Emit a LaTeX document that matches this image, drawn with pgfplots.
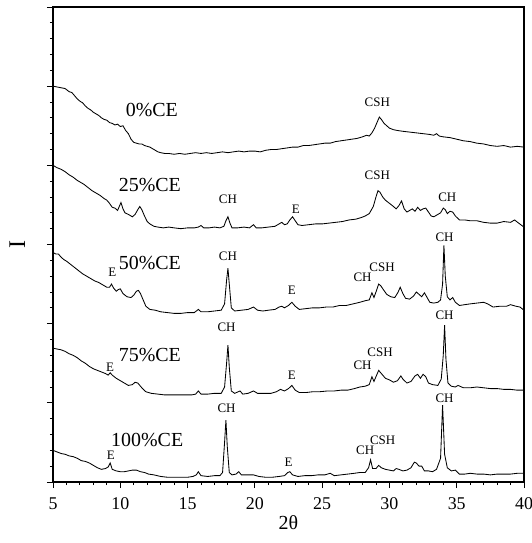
\documentclass[border=0pt]{standalone}
\usepackage{pgfplots}
\pgfplotsset{compat=1.18}
\usepackage{fontspec}
\setmainfont{Liberation Serif}
\begin{document}
\begin{tikzpicture}[lab/.style={font=\fontsize{20}{20}\selectfont}, pk/.style={font=\fontsize{13}{13}\selectfont}, cv/.style={black, line width=0.85pt, mark=none}]
\begin{axis}[
  at={(0,0)}, anchor=south west,
  scale only axis, width=471bp, height=475bp,
  xmin=5, xmax=40, ymin=0, ymax=6,
  xtick={5,10,...,40}, minor x tick num=4,
  ytick={0,1,...,6}, yticklabels={}, minor y tick num=4,
  xtick pos=bottom, ytick pos=left,
  tick align=outside,
  major tick length=6bp, minor tick length=3bp,
  axis line style={line width=1.1pt},
  every tick/.style={black, line width=0.9pt},
  /pgf/number format/assume math mode=true,
  ticklabel style={font=\fontsize{18}{18}\selectfont},
  xticklabel style={yshift=-6bp},
  xlabel={2θ}, xlabel style={font=\fontsize{20}{20}\selectfont, at={(axis description cs:0.5,-0.086)}, anchor=center},
  clip=false,
]
% 0%CE
\addplot[cv] coordinates {
(5.0,5.00)(5.3,4.99)(5.6,4.98)(5.9,4.97)(6.2,4.93)(6.4,4.92)(6.6,4.88)(6.8,4.84)(7.0,4.81)(7.2,4.79)(7.4,4.75)(7.6,4.72)(7.8,4.70)(8.0,4.67)(8.2,4.65)(8.4,4.63)(8.6,4.60)(8.8,4.58)(9.0,4.57)(9.2,4.54)(9.4,4.53)(9.6,4.51)(9.8,4.52)(10.0,4.49)(10.2,4.50)(10.4,4.44)(10.6,4.40)(10.8,4.33)(11.0,4.29)(11.2,4.28)(11.4,4.27)(11.6,4.27)(11.8,4.25)(12.0,4.24)(12.2,4.23)(12.4,4.21)(12.6,4.19)(12.8,4.17)(13.0,4.16)(13.3,4.15)(13.6,4.15)(14.0,4.14)(14.4,4.15)(14.8,4.14)(15.2,4.15)(15.6,4.16)(16.0,4.15)(16.4,4.16)(16.8,4.15)(17.2,4.16)(17.6,4.17)(18.0,4.16)(18.4,4.17)(18.8,4.18)(19.2,4.17)(19.6,4.18)(20.0,4.18)(20.4,4.17)(20.8,4.19)(21.2,4.20)(21.6,4.20)(22.0,4.21)(22.4,4.22)(22.8,4.23)(23.2,4.23)(23.6,4.25)(24.0,4.25)(24.4,4.26)(24.8,4.27)(25.2,4.28)(25.6,4.28)(26.0,4.30)(26.4,4.31)(26.8,4.32)(27.2,4.33)(27.6,4.34)(28.0,4.36)(28.3,4.38)(28.5,4.37)(28.7,4.41)(28.9,4.47)(29.1,4.55)(29.25,4.61)(29.4,4.58)(29.6,4.53)(29.8,4.50)(30.0,4.47)(30.3,4.45)(30.6,4.44)(31.0,4.43)(31.5,4.42)(32.0,4.41)(32.5,4.40)(33.0,4.39)(33.3,4.38)(33.5,4.40)(33.7,4.37)(34.0,4.36)(34.5,4.35)(35.0,4.33)(35.5,4.31)(36.0,4.30)(36.5,4.28)(37.0,4.27)(37.5,4.25)(38.0,4.24)(38.5,4.25)(39.0,4.23)(39.5,4.24)(40.0,4.23)
};
% 25%CE
\addplot[cv] coordinates {
(5.0,4.00)(5.3,3.97)(5.6,3.95)(5.9,3.92)(6.2,3.88)(6.5,3.85)(6.8,3.81)(7.0,3.79)(7.3,3.76)(7.6,3.72)(7.9,3.68)(8.2,3.65)(8.5,3.62)(8.8,3.58)(9.0,3.56)(9.2,3.52)(9.4,3.47)(9.6,3.46)(9.8,3.43)(9.9,3.47)(10.05,3.53)(10.2,3.45)(10.35,3.40)(10.6,3.38)(10.9,3.35)(11.1,3.38)(11.3,3.44)(11.45,3.48)(11.6,3.44)(11.8,3.36)(12.0,3.29)(12.2,3.26)(12.5,3.23)(12.8,3.22)(13.2,3.21)(13.6,3.22)(14.0,3.21)(14.5,3.20)(15.0,3.21)(15.5,3.21)(15.8,3.22)(16.0,3.24)(16.2,3.21)(16.6,3.21)(17.0,3.22)(17.4,3.21)(17.7,3.23)(17.85,3.30)(18.0,3.35)(18.15,3.27)(18.3,3.21)(18.7,3.21)(19.2,3.22)(19.6,3.21)(19.9,3.25)(20.1,3.21)(20.5,3.21)(21.0,3.22)(21.5,3.23)(21.8,3.26)(22.0,3.28)(22.2,3.25)(22.4,3.26)(22.6,3.31)(22.8,3.35)(23.0,3.30)(23.2,3.25)(23.5,3.24)(24.0,3.25)(24.5,3.26)(25.0,3.26)(25.5,3.27)(26.0,3.28)(26.5,3.29)(27.0,3.31)(27.5,3.32)(27.9,3.34)(28.2,3.36)(28.5,3.39)(28.8,3.48)(29.0,3.60)(29.15,3.68)(29.3,3.66)(29.5,3.60)(29.7,3.56)(30.0,3.52)(30.3,3.48)(30.5,3.45)(30.7,3.49)(30.9,3.55)(31.1,3.45)(31.3,3.41)(31.5,3.43)(31.7,3.45)(31.9,3.42)(32.1,3.47)(32.3,3.43)(32.5,3.45)(32.7,3.46)(32.9,3.41)(33.1,3.36)(33.3,3.35)(33.5,3.37)(33.8,3.40)(34.0,3.46)(34.15,3.44)(34.3,3.39)(34.5,3.42)(34.7,3.41)(34.9,3.36)(35.2,3.31)(35.6,3.31)(36.0,3.30)(36.5,3.30)(37.0,3.28)(37.5,3.27)(38.0,3.27)(38.5,3.29)(39.0,3.28)(39.3,3.31)(39.6,3.27)(40.0,3.22)
};
% 50%CE
\addplot[cv] coordinates {
(5.0,2.90)(5.2,2.88)(5.4,2.88)(5.6,2.84)(5.8,2.81)(6.0,2.79)(6.3,2.75)(6.6,2.71)(6.9,2.67)(7.2,2.63)(7.5,2.60)(7.8,2.57)(8.1,2.54)(8.4,2.52)(8.7,2.49)(9.0,2.46)(9.2,2.46)(9.35,2.50)(9.5,2.45)(9.7,2.41)(9.85,2.43)(10.0,2.44)(10.2,2.38)(10.5,2.34)(10.8,2.33)(11.0,2.36)(11.2,2.41)(11.35,2.42)(11.5,2.38)(11.7,2.30)(11.9,2.22)(12.2,2.18)(12.6,2.17)(13.0,2.15)(13.5,2.14)(14.0,2.13)(14.5,2.13)(15.0,2.14)(15.5,2.14)(15.8,2.18)(16.0,2.15)(16.5,2.15)(17.0,2.16)(17.5,2.17)(17.75,2.25)(17.9,2.55)(18.0,2.70)(18.1,2.50)(18.25,2.20)(18.5,2.16)(19.0,2.17)(19.5,2.18)(19.9,2.21)(20.2,2.17)(20.6,2.16)(21.0,2.17)(21.5,2.18)(21.8,2.21)(22.0,2.22)(22.2,2.20)(22.5,2.23)(22.75,2.27)(23.0,2.22)(23.3,2.18)(23.8,2.19)(24.3,2.20)(24.8,2.20)(25.3,2.21)(25.8,2.21)(26.3,2.23)(26.8,2.23)(27.3,2.25)(27.8,2.27)(28.2,2.29)(28.5,2.30)(28.7,2.39)(28.85,2.33)(29.0,2.40)(29.2,2.50)(29.35,2.48)(29.55,2.43)(29.8,2.37)(30.1,2.34)(30.4,2.33)(30.65,2.40)(30.8,2.46)(31.0,2.38)(31.2,2.32)(31.5,2.31)(31.8,2.35)(32.0,2.40)(32.2,2.37)(32.4,2.34)(32.6,2.39)(32.8,2.33)(33.0,2.27)(33.3,2.26)(33.6,2.27)(33.8,2.30)(33.95,2.50)(34.05,2.99)(34.15,2.60)(34.3,2.34)(34.5,2.30)(34.7,2.33)(34.9,2.27)(35.2,2.23)(35.6,2.24)(36.0,2.25)(36.5,2.26)(37.0,2.27)(37.3,2.25)(37.7,2.21)(38.2,2.22)(38.7,2.22)(39.0,2.24)(39.4,2.22)(39.7,2.21)(40.0,2.17)
};
% 75%CE
\addplot[cv] coordinates {
(5.0,1.69)(5.3,1.68)(5.6,1.67)(5.9,1.65)(6.2,1.62)(6.5,1.60)(6.8,1.57)(7.1,1.53)(7.4,1.50)(7.7,1.46)(8.0,1.43)(8.3,1.41)(8.6,1.39)(8.9,1.37)(9.1,1.35)(9.25,1.38)(9.4,1.35)(9.7,1.31)(10.0,1.28)(10.3,1.25)(10.6,1.22)(10.9,1.23)(11.1,1.26)(11.3,1.25)(11.6,1.19)(11.9,1.14)(12.3,1.12)(12.8,1.11)(13.3,1.10)(13.8,1.10)(14.3,1.10)(14.8,1.10)(15.3,1.10)(15.6,1.11)(15.8,1.15)(16.0,1.11)(16.5,1.11)(17.0,1.12)(17.5,1.12)(17.75,1.20)(17.9,1.50)(18.0,1.73)(18.1,1.45)(18.25,1.15)(18.5,1.12)(18.9,1.15)(19.1,1.11)(19.5,1.12)(19.9,1.15)(20.2,1.12)(20.7,1.12)(21.2,1.12)(21.6,1.14)(21.9,1.17)(22.2,1.15)(22.5,1.18)(22.75,1.22)(23.0,1.16)(23.3,1.13)(23.8,1.13)(24.3,1.14)(24.8,1.14)(25.4,1.15)(25.9,1.15)(26.4,1.16)(26.9,1.16)(27.4,1.18)(27.8,1.20)(28.2,1.21)(28.5,1.23)(28.7,1.33)(28.85,1.27)(29.0,1.33)(29.2,1.41)(29.4,1.37)(29.7,1.31)(30.0,1.29)(30.3,1.26)(30.6,1.28)(30.85,1.34)(31.0,1.30)(31.3,1.25)(31.6,1.27)(31.9,1.34)(32.1,1.36)(32.3,1.31)(32.5,1.36)(32.7,1.33)(32.9,1.25)(33.2,1.23)(33.6,1.22)(33.85,1.30)(34.0,1.60)(34.1,1.98)(34.2,1.55)(34.35,1.25)(34.6,1.21)(34.9,1.20)(35.1,1.22)(35.5,1.19)(36.0,1.19)(36.5,1.20)(37.0,1.19)(37.5,1.18)(38.0,1.18)(38.5,1.17)(39.0,1.17)(39.5,1.16)(40.0,1.16)
};
% 100%CE
\addplot[cv] coordinates {
(5.0,0.40)(5.3,0.38)(5.6,0.36)(5.9,0.35)(6.2,0.33)(6.5,0.32)(6.8,0.30)(7.1,0.27)(7.4,0.26)(7.7,0.24)(8.0,0.21)(8.3,0.18)(8.6,0.16)(8.9,0.17)(9.1,0.19)(9.25,0.24)(9.4,0.16)(9.7,0.14)(10.0,0.13)(10.3,0.13)(10.6,0.14)(10.9,0.15)(11.2,0.15)(11.5,0.13)(11.8,0.12)(12.1,0.10)(12.5,0.09)(13.0,0.07)(13.5,0.06)(14.0,0.06)(14.5,0.06)(15.0,0.06)(15.4,0.07)(15.65,0.09)(15.8,0.13)(16.0,0.08)(16.5,0.07)(17.0,0.08)(17.4,0.08)(17.6,0.12)(17.75,0.50)(17.85,0.78)(17.95,0.45)(18.1,0.12)(18.3,0.09)(18.6,0.10)(18.8,0.13)(19.0,0.09)(19.5,0.09)(19.9,0.09)(20.3,0.07)(20.8,0.06)(21.3,0.06)(21.8,0.07)(22.2,0.08)(22.45,0.12)(22.6,0.13)(22.8,0.09)(23.2,0.07)(23.7,0.08)(24.2,0.08)(24.7,0.09)(25.2,0.09)(25.6,0.11)(25.9,0.08)(26.4,0.09)(26.9,0.10)(27.4,0.11)(27.8,0.12)(28.2,0.12)(28.45,0.18)(28.6,0.28)(28.75,0.17)(29.0,0.17)(29.2,0.21)(29.4,0.18)(29.7,0.16)(30.0,0.15)(30.3,0.14)(30.5,0.17)(30.7,0.16)(31.0,0.14)(31.3,0.15)(31.6,0.18)(31.85,0.25)(32.0,0.24)(32.2,0.20)(32.4,0.20)(32.6,0.14)(32.9,0.14)(33.2,0.13)(33.5,0.16)(33.8,0.30)(33.95,0.97)(34.1,0.35)(34.3,0.18)(34.6,0.14)(34.9,0.15)(35.2,0.10)(35.6,0.10)(36.0,0.11)(36.5,0.10)(37.0,0.10)(37.5,0.09)(38.0,0.10)(38.5,0.10)(39.0,0.10)(39.5,0.11)(40.0,0.11)
};
% labels
\node[rotate=90, font=\fontsize{24}{24}\selectfont] at (axis description cs:-0.076,0.5) {I};
\node[lab] at (axis cs:12.35,4.70) {0\%CE};
\node[pk] at (axis cs:29.1,4.80) {CSH};
\node[lab] at (axis cs:12.2,3.75) {25\%CE};
\node[pk] at (axis cs:18.0,3.57) {CH};
\node[pk] at (axis cs:23.05,3.45) {E};
\node[pk] at (axis cs:29.1,3.88) {CSH};
\node[pk] at (axis cs:34.3,3.60) {CH};
\node[lab] at (axis cs:12.2,2.76) {50\%CE};
\node[pk] at (axis cs:9.4,2.65) {E};
\node[pk] at (axis cs:18.0,2.85) {CH};
\node[pk] at (axis cs:22.75,2.42) {E};
\node[pk] at (axis cs:28.0,2.59) {CH};
\node[pk] at (axis cs:29.45,2.71) {CSH};
\node[pk] at (axis cs:34.1,3.09) {CH};
\node[lab] at (axis cs:12.2,1.60) {75\%CE};
\node[pk] at (axis cs:9.25,1.45) {E};
\node[pk] at (axis cs:17.9,1.96) {CH};
\node[pk] at (axis cs:22.75,1.35) {E};
\node[pk] at (axis cs:28.0,1.48) {CH};
\node[pk] at (axis cs:29.3,1.64) {CSH};
\node[pk] at (axis cs:34.1,2.10) {CH};
\node[lab] at (axis cs:12.0,0.53) {100\%CE};
\node[pk] at (axis cs:9.3,0.34) {E};
\node[pk] at (axis cs:17.9,0.93) {CH};
\node[pk] at (axis cs:22.5,0.25) {E};
\node[pk] at (axis cs:28.2,0.40) {CH};
\node[pk] at (axis cs:29.5,0.53) {CSH};
\node[pk] at (axis cs:34.1,1.06) {CH};
\end{axis}
\pgfresetboundingbox
\path[use as bounding box] (-53bp,-61bp) rectangle (479bp,482bp);
\end{tikzpicture}
\end{document}
